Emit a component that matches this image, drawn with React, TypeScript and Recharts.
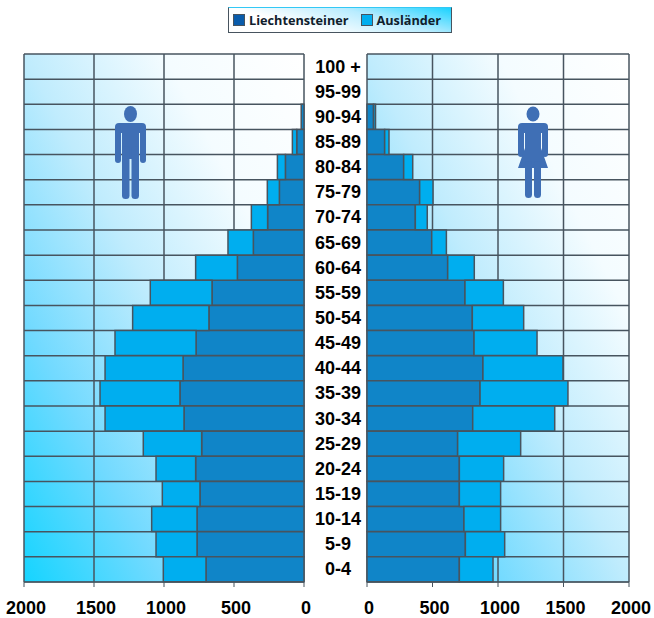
import { Bar, BarChart, CartesianGrid, XAxis, YAxis } from "recharts";

const AGE_GROUPS = [
  "100 +", "95-99", "90-94", "85-89", "80-84", "75-79", "70-74",
  "65-69", "60-64", "55-59", "50-54", "45-49", "40-44", "35-39",
  "30-34", "25-29", "20-24", "15-19", "10-14", "5-9", "0-4",
];

// men, left half
const MEN_LI = [0, 0, 20, 52, 133, 176, 260, 362, 476, 657, 679, 771, 864, 886, 857, 731, 774, 743, 764, 764, 700];
const MEN_AUS = [0, 0, 0, 31, 57, 86, 116, 181, 298, 441, 545, 579, 557, 571, 564, 417, 283, 269, 324, 293, 305];

// women, right half
const WOMEN_LI = [0, 0, 50, 135, 280, 402, 369, 494, 616, 748, 804, 817, 885, 863, 807, 692, 705, 705, 740, 751, 705];
const WOMEN_AUS = [0, 0, 15, 33, 69, 102, 91, 112, 203, 293, 392, 481, 611, 671, 626, 481, 338, 315, 280, 300, 257];

const X_TICKS = [0, 500, 1000, 1500, 2000];

const menData = AGE_GROUPS.map((age, i) => ({ age, li: MEN_LI[i], aus: MEN_AUS[i] }));
const womenData = AGE_GROUPS.map((age, i) => ({ age, li: WOMEN_LI[i], aus: WOMEN_AUS[i] }));

const LINE = "#47545f";
const DARK_BLUE = "#1085c8";
const LIGHT_BLUE = "#00aeef";
const ICON_BLUE = "#3f6fb5";
const TICK_STYLE = { fontFamily: "'Liberation Sans', Arial, sans-serif", fontSize: 18, fontWeight: 700, fill: "#000" };

// the row borders sit between the categories, not on them
const rowLines = ({ offset }: any) =>
  AGE_GROUPS.map((_, i) => offset.top + (i * offset.height) / AGE_GROUPS.length).concat(offset.top + offset.height);

function AgeTick({ x, y, payload }: any) {
  return (
    <text x={x + 26} y={y + 6} textAnchor="middle" style={TICK_STYLE}>
      {payload.value}
    </text>
  );
}

function ValueTick({ x, y, payload }: any) {
  return (
    <text x={x + 2} y={y + 13} textAnchor="middle" style={TICK_STYLE}>
      {payload.value}
    </text>
  );
}

function PlotGradient({ id }: { id: string }) {
  return (
    <defs>
      <linearGradient id={id} x1="0" y1="1" x2="1" y2="0">
        <stop offset="0" stopColor="#15d4ff" />
        <stop offset="0.25" stopColor="#72daff" />
        <stop offset="0.5" stopColor="#c0ecfd" />
        <stop offset="0.75" stopColor="#f4fcff" />
        <stop offset="1" stopColor="#ffffff" />
      </linearGradient>
    </defs>
  );
}

function Man() {
  return (
    <svg width={32} height={94} viewBox="0 0 32 94" style={{ position: "absolute", left: 115, top: 106 }}>
      <g fill={ICON_BLUE}>
        <ellipse cx={15.5} cy={8} rx={6.5} ry={8} />
        <rect x={0} y={17} width={31} height={10} rx={4} />
        <rect x={0} y={20} width={6} height={37} rx={3} />
        <rect x={25} y={20} width={6} height={37} rx={3} />
        <rect x={7} y={20} width={17} height={33} />
        <rect x={7} y={40} width={7.5} height={53} rx={3.5} />
        <rect x={16.5} y={40} width={7.5} height={53} rx={3.5} />
      </g>
    </svg>
  );
}

function Woman() {
  return (
    <svg width={32} height={94} viewBox="0 0 32 94" style={{ position: "absolute", left: 517, top: 106 }}>
      <g fill={ICON_BLUE}>
        <ellipse cx={16} cy={8} rx={6.5} ry={7.5} />
        <rect x={1} y={17} width={30} height={10} rx={4} />
        <rect x={1} y={20} width={6} height={31} rx={3} />
        <rect x={25} y={20} width={6} height={31} rx={3} />
        <path d="M8 20H24V42L31 62H1L8 42Z" />
        <rect x={8} y={55} width={7} height={37} rx={3.5} />
        <rect x={17} y={55} width={7} height={37} rx={3.5} />
      </g>
    </svg>
  );
}

function LegendBox() {
  const item = { display: "flex", alignItems: "center", gap: 4 };
  const swatch = { width: 10, height: 10, border: "1px solid #47545f" };
  return (
    <div
      style={{
        position: "absolute", left: 228, top: 7, width: 224, height: 26,
        boxSizing: "border-box", border: "1px solid #47545f", borderTopColor: "#33c8f5",
        background: "linear-gradient(195deg, #1ad2ff 0%, #b8ecff 35%, #ffffff 70%)",
        display: "flex", alignItems: "center", paddingLeft: 4, gap: 12,
        fontFamily: "'Open Sans', sans-serif", fontSize: 12.7, fontWeight: 700, color: "#10202c",
      }}
    >
      <span style={item}><span style={{ ...swatch, background: "#0a5cab" }} />Liechtensteiner</span>
      <span style={item}><span style={{ ...swatch, background: LIGHT_BLUE }} />Ausländer</span>
    </div>
  );
}

export default function App() {
  return (
    <div style={{ position: "absolute", left: 0, top: 0, width: 654, height: 618, background: "#fff", overflow: "hidden" }}>
      {/* Men */}
      <div style={{ position: "absolute", left: 0, top: 0 }}>
        <BarChart
          width={370}
          height={618}
          layout="vertical"
          data={menData}
          barCategoryGap={0}
          margin={{ top: 54, right: 0, bottom: 0, left: 24 }}
        >
          <PlotGradient id="menBg" />
          <CartesianGrid
            fill="url(#menBg)"
            fillOpacity={1}
            stroke={LINE}
            strokeWidth={1.5}
            horizontalCoordinatesGenerator={rowLines}
          />
          <XAxis
            type="number"
            reversed
            domain={[0, 2000]}
            ticks={X_TICKS}
            interval={0}
            height={36}
            tickSize={5}
            tickMargin={14}
            stroke={LINE}
            tick={<ValueTick />}
          />
          <YAxis
            type="category"
            dataKey="age"
            orientation="right"
            width={66}
            interval={0}
            axisLine={false}
            tickLine={false}
            tick={<AgeTick />}
          />
          <Bar dataKey="li" stackId="men" fill={DARK_BLUE} stroke={LINE} strokeWidth={1.5} isAnimationActive={false} />
          <Bar dataKey="aus" stackId="men" fill={LIGHT_BLUE} stroke={LINE} strokeWidth={1.5} isAnimationActive={false} />
        </BarChart>
      </div>

      {/* Women */}
      <div style={{ position: "absolute", left: 340, top: 0 }}>
        <BarChart
          width={314}
          height={618}
          layout="vertical"
          data={womenData}
          barCategoryGap={0}
          margin={{ top: 54, right: 25, bottom: 0, left: 27 }}
        >
          <PlotGradient id="womenBg" />
          <CartesianGrid
            fill="url(#womenBg)"
            fillOpacity={1}
            stroke={LINE}
            strokeWidth={1.5}
            horizontalCoordinatesGenerator={rowLines}
          />
          <XAxis
            type="number"
            domain={[0, 2000]}
            ticks={X_TICKS}
            interval={0}
            height={36}
            tickSize={5}
            tickMargin={14}
            stroke={LINE}
            tick={<ValueTick />}
          />
          <YAxis type="category" dataKey="age" hide />
          <Bar dataKey="li" stackId="women" fill={DARK_BLUE} stroke={LINE} strokeWidth={1.5} isAnimationActive={false} />
          <Bar dataKey="aus" stackId="women" fill={LIGHT_BLUE} stroke={LINE} strokeWidth={1.5} isAnimationActive={false} />
        </BarChart>
      </div>

      <Man />
      <Woman />
      <LegendBox />
    </div>
  );
}
